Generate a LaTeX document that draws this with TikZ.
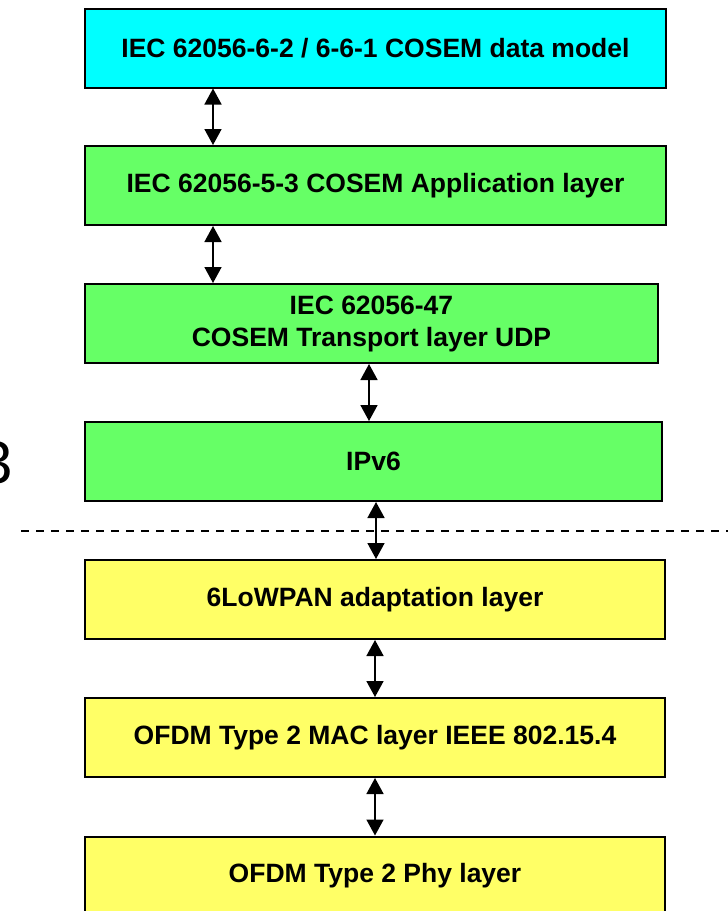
\documentclass[tikz,border=0pt]{standalone}
\usepackage{fontspec}
\setmainfont{Liberation Sans}
\usetikzlibrary{arrows.meta}
\definecolor{modelcyan}{HTML}{00FFFF}
\definecolor{layergreen}{HTML}{66FF66}
\definecolor{layeryellow}{HTML}{FFFF66}
\tikzset{
    layer/.style={draw=black,line width=2pt,minimum height=79pt,inner sep=0pt,align=center,
        font=\fontsize{26.5}{32}\selectfont\bfseries},
    link/.style={line width=1.6pt,<->,>={Triangle[width=17pt,length=16pt]}}
}
\begin{document}
\begin{tikzpicture}[x=1pt,y=-1pt]
        \useasboundingbox (0,0) rectangle (728,911);
        \node[layer,fill=modelcyan,minimum width=581pt] (model) at (375.5,48) {IEC 62056-6-2 / 6-6-1 COSEM data model};
        \node[layer,fill=layergreen,minimum width=581pt] (appl) at (375.5,185.5) {IEC 62056-5-3 COSEM Application layer};
        \node[layer,fill=layergreen,minimum width=573pt] (transp) at (371.5,323.5) {IEC 62056-47\\COSEM Transport layer UDP};
        \node[layer,fill=layergreen,minimum width=577pt] (ipv6) at (373.5,461.5) {IPv6};
        \node[layer,fill=layeryellow,minimum width=580pt] (lowpan) at (375,599.5) {6LoWPAN adaptation layer};
        \node[layer,fill=layeryellow,minimum width=580pt] (mac) at (375,737.5) {OFDM Type 2 MAC layer IEEE 802.15.4};
        \node[layer,fill=layeryellow,minimum width=580pt] (phy) at (375,876) {OFDM Type 2 Phy layer};
        \node[anchor=base west,inner sep=0pt,font=\fontsize{60}{60}\selectfont] (three) at (-21,483) {3};
        % arrows between the layers
        \draw[link] ([xshift=-162.5pt]model.south) -- ([xshift=-162.5pt]appl.north);
        \draw[link] ([xshift=-162.5pt]appl.south) -- ([xshift=-158.5pt]transp.north);
        \draw[link] ([xshift=-2.5pt]transp.south) -- ([xshift=-4.5pt]ipv6.north);
        \draw[link] ([xshift=2.5pt]ipv6.south) -- ([xshift=1pt]lowpan.north);
        \draw[link] (lowpan.south) -- (mac.north);
        \draw[link] (mac.south) -- (phy.north);
        \coordinate (cutL) at (21,531);
        \coordinate (cutR) at (728,531);
        \draw[line width=1.5pt,dash pattern=on 8pt off 7pt] (cutL) -- (cutR);
    \end{tikzpicture}
\end{document}
